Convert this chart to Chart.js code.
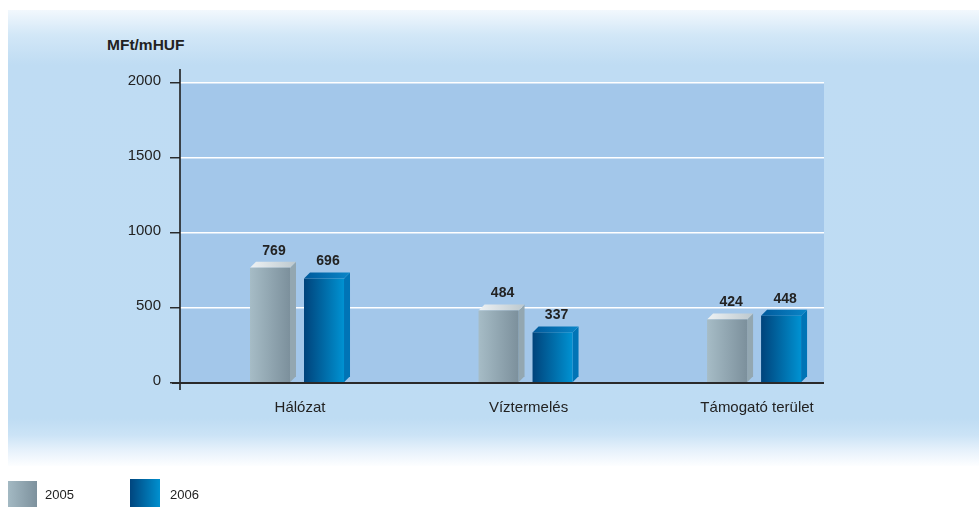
<!DOCTYPE html>
<html>
<head>
<meta charset="utf-8">
<script src="https://cdn.jsdelivr.net/npm/chart.js@4/dist/chart.umd.min.js"></script>
<style>
  html, body { margin:0; padding:0; background:#ffffff; }
  #wrap { position:relative; width:979px; height:507px; overflow:hidden; font-family:"Liberation Sans", Arial, Helvetica, sans-serif; }
  #panel { position:absolute; left:8px; top:10px; width:971px; height:456px;
    background: linear-gradient(to bottom, #f2f8fd 0px, #d2e7f7 25px, #bfdcf3 55px, #bedcf3 408px, #cbe3f6 425px, #e6f1fb 440px, #fdfeff 456px); }
  #title { position:absolute; left:107px; top:36px; font-weight:bold; font-size:15.5px; color:#222; }
  canvas { position:absolute; left:0; top:0; }
  .sw { position:absolute; }
  .lt { position:absolute; font-size:13px; color:#222; }
</style>
</head>
<body>
<div id="wrap">
  <div id="panel"></div>
  <div id="title">MFt/mHUF</div>
  <canvas id="c" width="979" height="507"></canvas>
  <div class="sw" style="left:8px;top:481px;width:29px;height:26px;background:linear-gradient(to right,#a3b9c3,#7d919d);"></div>
  <div class="lt" style="left:45px;top:487px;">2005</div>
  <div class="sw" style="left:130px;top:479px;width:30px;height:28px;background:linear-gradient(to right,#00457e,#0090cf);"></div>
  <div class="lt" style="left:170px;top:487px;">2006</div>
</div>
<script>
const categories = ["Hálózat", "Víztermelés", "Támogató terület"];
const seriesNames = ["2005", "2006"];
const values2005 = [769, 484, 424];
const values2006 = [696, 337, 448];
const yTicks = [0, 500, 1000, 1500, 2000];

const FONT = '"Liberation Sans", Arial, Helvetica, sans-serif';

const faceStyles = [
  { front: ['#a6bcc6', '#7c909c'], side: '#93a7b1', top: ['#eef2f4', '#bcc8ce'] },
  { front: ['#00437b', '#0092d2'], side: '#0074b6', top: ['#005a9c', '#0a86c8'] }
];

const bars3d = {
  id: 'bars3d',
  beforeDraw(chart) {
    const a = chart.chartArea, ctx = chart.ctx;
    ctx.save();
    ctx.fillStyle = '#a3c7ea';
    ctx.fillRect(a.left, a.top, a.right - a.left, a.bottom - a.top);
    ctx.restore();
  },
  afterDatasetsDraw(chart) {
    const ctx = chart.ctx;
    const d = 6;
    chart.data.datasets.forEach((ds, di) => {
      const st = faceStyles[di];
      chart.getDatasetMeta(di).data.forEach((bar, i) => {
        const p = bar.getProps(['x', 'y', 'base', 'width'], true);
        const l = p.x - p.width / 2, r = p.x + p.width / 2, t = p.y, b = p.base;
        ctx.save();
        ctx.beginPath();
        ctx.moveTo(r, t); ctx.lineTo(r + d, t - d); ctx.lineTo(r + d, b - d); ctx.lineTo(r, b); ctx.closePath();
        ctx.fillStyle = st.side; ctx.fill();
        const gt = ctx.createLinearGradient(l, 0, r + d, 0);
        gt.addColorStop(0, st.top[0]); gt.addColorStop(1, st.top[1]);
        ctx.beginPath();
        ctx.moveTo(l, t); ctx.lineTo(l + d, t - d); ctx.lineTo(r + d, t - d); ctx.lineTo(r, t); ctx.closePath();
        ctx.fillStyle = gt; ctx.fill();
        const gf = ctx.createLinearGradient(l, 0, r, 0);
        gf.addColorStop(0, st.front[0]); gf.addColorStop(1, st.front[1]);
        ctx.fillStyle = gf;
        ctx.fillRect(l, t, r - l, b - t);
        ctx.fillStyle = '#222';
        ctx.font = 'bold 14px ' + FONT;
        ctx.textAlign = 'center';
        ctx.textBaseline = 'middle';
        ctx.fillText(String(ds.data[i].y), p.x + 4, t - 17);
        ctx.restore();
      });
    });
    const a = chart.chartArea;
    ctx.save();
    ctx.strokeStyle = '#1e1e1e';
    ctx.lineWidth = 1.6;
    ctx.beginPath();
    ctx.moveTo(a.left, a.top - 14); ctx.lineTo(a.left, a.bottom + 7);
    ctx.stroke();
    ctx.strokeStyle = '#2a2a2a';
    ctx.lineWidth = 2.2;
    ctx.beginPath();
    ctx.moveTo(a.left - 8, a.bottom); ctx.lineTo(a.right, a.bottom);
    ctx.stroke();
    ctx.restore();
  }
};

const seriesValues = [values2005, values2006];
new Chart(document.getElementById('c'), {
  type: 'bar',
  data: {
    datasets: seriesNames.map((name, si) => ({
      label: name,
      data: categories.map((c, i) => ({ x: i, y: seriesValues[si][i] })),
      backgroundColor: 'rgba(0,0,0,0)',
      borderWidth: 0,
      categoryPercentage: 0.4726,
      barPercentage: 0.7407
    }))
  },
  options: {
    responsive: false,
    animation: false,
    layout: { padding: { top: 83, right: 155, left: 0, bottom: 0 } },
    plugins: { legend: { display: false }, tooltip: { enabled: false } },
    scales: {
      x: {
        type: 'linear',
        offset: false,
        min: -0.512,
        max: 2.306,
        afterBuildTicks: (s) => { s.ticks = categories.map((c, i) => ({ value: i })); },
        afterFit: (s) => { s.height = 124; },
        grid: { display: false, drawTicks: false, offset: false },
        border: { display: false },
        ticks: {
          callback: (v) => categories[v],
          font: { family: FONT, size: 15 },
          color: '#222',
          padding: 16,
          labelOffset: 3,
          maxRotation: 0,
          autoSkip: false
        }
      },
      y: {
        min: 0,
        max: 2000,
        afterBuildTicks: (s) => { s.ticks = yTicks.map(v => ({ value: v })); },
        afterFit: (s) => { s.width = 180; },
        grid: { color: '#ffffff', lineWidth: 1.5, tickColor: '#222', tickLength: 10, tickWidth: 1.4 },
        border: { display: false },
        ticks: {
          callback: (v) => String(v),
          font: { family: FONT, size: 15 },
          color: '#222',
          padding: 9,
          labelOffset: -2.5
        }
      }
    }
  },
  plugins: [bars3d]
});
</script>
</body>
</html>
